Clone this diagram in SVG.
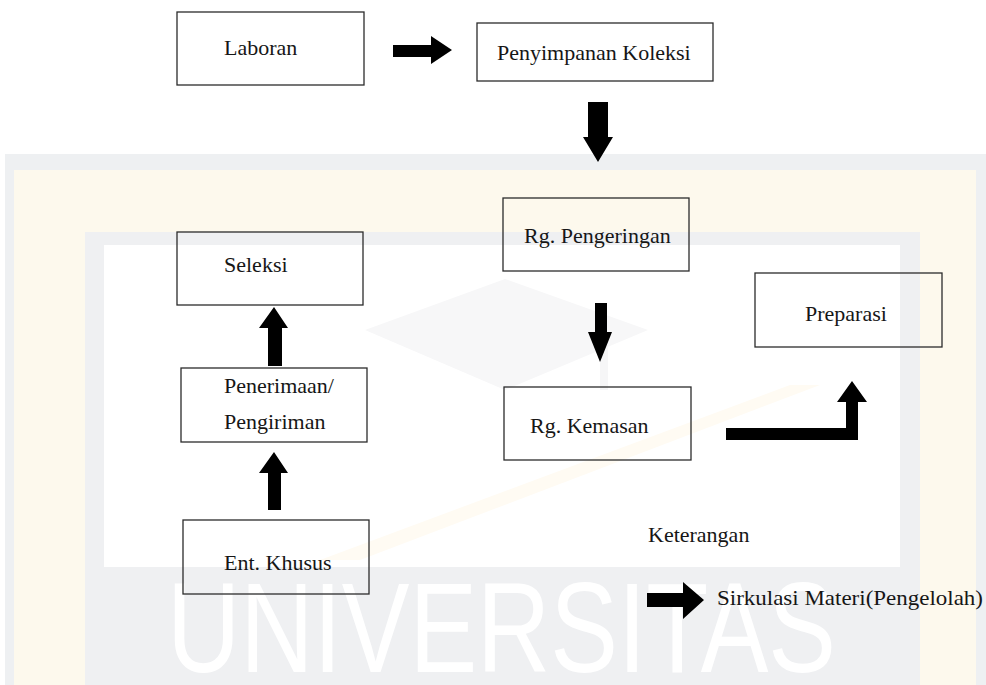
<svg xmlns="http://www.w3.org/2000/svg" width="986" height="685" viewBox="0 0 986 685">
  <style>
    .box { fill: none; stroke: #2b2b2b; stroke-width: 1.3; }
    .lbl { font-family: "Liberation Serif", "Times New Roman", serif; font-size: 22px; fill: #161616; }
    .arrow { fill: #000; }
    .wm-text { font-family: "Liberation Sans", Arial, sans-serif; font-size: 128px; fill: #ffffff; }
  </style>

  <!-- page background -->
  <rect x="0" y="0" width="986" height="685" fill="#ffffff"/>

  <!-- faint background frame -->
  <g id="backdrop">
    <rect x="5" y="154" width="981" height="531" fill="#eef0f2"/>
    <rect x="14" y="170" width="962" height="515" fill="#fdf9ed"/>
    <rect x="85" y="232" width="835" height="453" fill="#eff0f2"/>
    <rect x="104" y="245" width="796" height="322" fill="#ffffff"/>
    <!-- emblem: cap and diagonal sash -->
    <polygon points="365,330 505,279 648,330 505,390" fill="#f7f7f8"/>
    <rect x="600" y="330" width="8" height="60" fill="#f6f6f7"/>
    <polygon points="320,560 360,560 820,385 790,385" fill="#fffbf3"/>
    <text class="wm-text" x="167" y="672" textLength="669" lengthAdjust="spacingAndGlyphs">UNIVERSITAS</text>
  </g>

  <!-- connectors -->
  <g id="connectors">
    <!-- Laboran to Penyimpanan Koleksi -->
    <polygon class="arrow" points="393,45 431,45 431,36 452,50 431,64 431,57 393,57"/>
    <!-- Penyimpanan Koleksi down -->
    <polygon class="arrow" points="588,102 608,102 608,137 613,137 598,162 583,137 588,137"/>
    <!-- Rg. Pengeringan to Rg. Kemasan -->
    <polygon class="arrow" points="595,303 607,303 607,332 612,332 600,362 588,332 595,332"/>
    <!-- Penerimaan to Seleksi -->
    <polygon class="arrow" points="268,366 282,366 282,328 288,328 274,307 259,328 268,328"/>
    <!-- Ent. Khusus to Penerimaan -->
    <polygon class="arrow" points="268,510 281,510 281,473 288,473 274,452 259,473 268,473"/>
    <!-- Rg. Kemasan to Preparasi (bent) -->
    <polygon class="arrow" points="726,428 846,428 846,402 837,402 852,381 867,402 858,402 858,440 726,440"/>
    <!-- legend arrow -->
    <polygon class="arrow" points="647,593 683,593 683,582 704,600 683,619 683,607 647,607"/>
  </g>

  <g id="laboran">
    <rect class="box" x="177" y="12" width="187" height="73"/>
    <text class="lbl" x="224" y="55">Laboran</text>
  </g>

  <g id="penyimpanan-koleksi">
    <rect class="box" x="477" y="23" width="236" height="58"/>
    <text class="lbl" x="497" y="60">Penyimpanan Koleksi</text>
  </g>

  <g id="seleksi">
    <rect class="box" x="177" y="232" width="186" height="73"/>
    <text class="lbl" x="224" y="272">Seleksi</text>
  </g>

  <g id="penerimaan-pengiriman">
    <rect class="box" x="181" y="368" width="186" height="74"/>
    <text class="lbl" x="224" y="393">Penerimaan/</text>
    <text class="lbl" x="224" y="429">Pengiriman</text>
  </g>

  <g id="ent-khusus">
    <rect class="box" x="183" y="520" width="186" height="74"/>
    <text class="lbl" x="224" y="570">Ent. Khusus</text>
  </g>

  <g id="rg-pengeringan">
    <rect class="box" x="503" y="198" width="186" height="73"/>
    <text class="lbl" x="524" y="243">Rg. Pengeringan</text>
  </g>

  <g id="rg-kemasan">
    <rect class="box" x="504" y="387" width="187" height="73"/>
    <text class="lbl" x="530" y="433">Rg. Kemasan</text>
  </g>

  <g id="preparasi">
    <rect class="box" x="755" y="273" width="187" height="74"/>
    <text class="lbl" x="805" y="321">Preparasi</text>
  </g>

  <g id="legend">
    <text class="lbl" x="648" y="542">Keterangan</text>
    <text class="lbl" x="717" y="605" textLength="266" lengthAdjust="spacingAndGlyphs">Sirkulasi Materi(Pengelolah)</text>
  </g>
</svg>
